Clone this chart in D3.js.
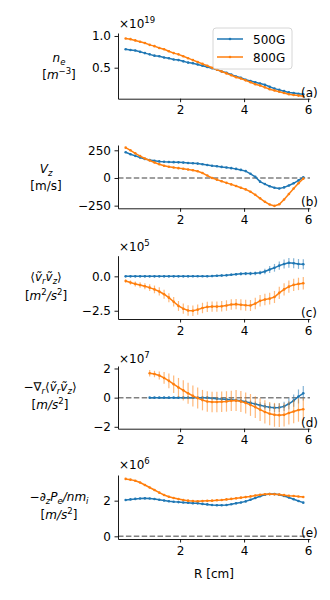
<!DOCTYPE html>
<html>
<head>
<meta charset="utf-8">
<script src="https://d3js.org/d3.v7.min.js"></script>
<style>
  body { margin: 0; background: #fff; }
  svg text { font-family: "DejaVu Sans", sans-serif; fill: #000; }
</style>
</head>
<body>
<svg id="chart" width="330" height="600"></svg>
<script>
// radial positions (cm)
var R = [0.3, 0.45, 0.6, 0.75, 0.9, 1.05, 1.2, 1.35, 1.5, 1.65, 1.8, 1.95, 2.1, 2.25, 2.4, 2.55, 2.7, 2.85, 3.0,
         3.15, 3.3, 3.45, 3.6, 3.75, 3.9, 4.05, 4.2, 4.35, 4.5, 4.65, 4.8, 4.95, 5.1, 5.25, 5.4, 5.55, 5.7, 5.85];
var seriesNames = ["500G", "800G"];
var xTicks = [2, 4, 6];

// (a) n_e  x1e19
var ne500 = [.79, .78, .77, .75, .73, .71, .69, .68, .66, .65, .63, .62, .60, .58, .57, .55, .53, .51, .49,
             .47, .44, .42, .39, .36, .34, .31, .29, .27, .25, .23, .20, .17, .15, .13, .11, .10, .09, .08];
var ne800 = [.96, .95, .93, .91, .89, .86, .84, .81, .79, .76, .73, .71, .68, .65, .62, .59, .56, .53, .50,
             .47, .44, .41, .38, .35, .33, .30, .27, .24, .22, .19, .16, .14, .12, .10, .08, .07, .06, .05];

// (b) V_z  m/s
var vz500 = [232, 215, 200, 185, 172, 162, 155, 150, 147, 145, 143, 141, 139, 136, 133, 130, 124, 117, 111,
             106, 100, 95, 89, 82, 73, 62, 38, 10, -33, -55, -75, -88, -95, -85, -68, -48, -22, 6];
var vz800 = [274, 250, 223, 198, 176, 158, 140, 124, 111, 102, 95, 89, 83, 77, 70, 61, 45, 22, 0,
             -15, -30, -44, -58, -72, -88, -103, -124, -152, -184, -215, -240, -252, -238, -195, -145, -95, -48, -6];

// (c) <vr vz>  x1e5
var rs500 = [0, 0, 0, 0, 0, 0, 0, 0, 0, 0, 0, 0, 0, 0, 0.01, 0.01, 0.01, 0.01, 0.02,
             0.04, 0.06, 0.08, 0.12, 0.15, 0.18, 0.2, 0.2, 0.22, 0.26, 0.35, 0.5, 0.62, 0.78, 0.9, 0.98, 0.95, 0.9, 0.88];
var rs500err = [.03, .03, .03, .03, .03, .03, .03, .03, .03, .04, .04, .04, .05, .05, .05, .06, .06, .07, .08,
                .08, .09, .1, .1, .1, .12, .12, .13, .14, .15, .2, .25, .28, .3, .33, .35, .36, .36, .36];
var rs800 = [-0.34, -0.45, -0.55, -0.63, -0.72, -0.82, -0.95, -1.1, -1.3, -1.55, -1.85, -2.15, -2.35, -2.48, -2.5, -2.42, -2.3, -2.22, -2.2,
             -2.2, -2.18, -2.12, -2.05, -2.02, -2.06, -2.1, -2.12, -1.98, -1.78, -1.68, -1.62, -1.5, -1.2, -0.95, -0.75, -0.62, -0.55, -0.5];
var rs800err = [.12, .15, .18, .2, .22, .25, .28, .3, .32, .33, .35, .36, .37, .38, .38, .38, .38, .38, .38,
                .38, .38, .38, .38, .38, .4, .4, .4, .42, .42, .42, .42, .44, .44, .44, .44, .45, .45, .45];

// (d) -grad_r <vr vz>  x1e7  (starts at R = 1.05)
var fr500 = [null, null, null, null, null, 0, 0, 0, 0, 0, 0, 0, 0, 0, 0, 0, 0, 0, -0.04,
             -0.08, -0.1, -0.12, -0.15, -0.18, -0.22, -0.28, -0.36, -0.44, -0.52, -0.6, -0.66, -0.7, -0.68, -0.6, -0.42, -0.2, 0.08, 0.3];
var fr500err = [null, null, null, null, null, .04, .04, .04, .04, .04, .04, .04, .05, .05, .05, .05, .06, .06, .07,
                .08, .1, .1, .12, .12, .14, .15, .16, .18, .2, .22, .25, .28, .3, .32, .38, .42, .48, .5];
var fr800 = [null, null, null, null, null, 1.67, 1.62, 1.52, 1.35, 1.15, 0.92, 0.7, 0.5, 0.3, 0.12, -0.03, -0.17, -0.26, -0.3,
             -0.3, -0.28, -0.26, -0.22, -0.2, -0.26, -0.36, -0.5, -0.65, -0.82, -0.98, -1.1, -1.18, -1.2, -1.18, -1.05, -0.95, -0.85, -0.8];
var fr800err = [null, null, null, null, null, .22, .22, .28, .4, .5, .6, .65, .7, .72, .72, .72, .7, .7, .7,
                .7, .7, .7, .7, .72, .72, .72, .75, .75, .78, .8, .8, .82, .82, .8, .8, .8, .8, .8];

// (e) -d_z P_e / n m_i  x1e6
var pe500 = [2.04, 2.07, 2.1, 2.12, 2.13, 2.12, 2.09, 2.05, 2.01, 1.97, 1.94, 1.92, 1.9, 1.88, 1.86, 1.85, 1.82, 1.79, 1.76,
             1.74, 1.74, 1.76, 1.8, 1.85, 1.9, 1.96, 2.05, 2.15, 2.25, 2.33, 2.37, 2.37, 2.33, 2.26, 2.18, 2.08, 1.98, 1.89];
var pe800 = [3.22, 3.18, 3.12, 3.02, 2.88, 2.74, 2.6, 2.45, 2.32, 2.22, 2.15, 2.09, 2.04, 2.0, 1.98, 1.97, 1.98, 1.99, 2.0,
             2.02, 2.04, 2.07, 2.1, 2.13, 2.17, 2.2, 2.24, 2.29, 2.33, 2.36, 2.37, 2.36, 2.34, 2.31, 2.28, 2.26, 2.23, 2.21];

var colors = ["#1f77b4", "#ff7f0e"];
var svg = d3.select("#chart");
var fs = 12;

var x = d3.scaleLinear().domain([0.06, 6.06]).range([118, 310]);

// label pieces: r = roman, i = italic, b = subscript, p = superscript
var panels = [
  {id: "a", top: 33, bottom: 98.7, dom: [0.011, 1.047], ticks: [0.5, 1.0], fmt: d3.format(".1f"),
   series: [ne500, ne800], err: null, zero: false, exp: "19", expY: 28, labY: [62, 79], labX: 59,
   lab: [[["n", "i"], ["e", "b"]], [["[", "r"], ["m", "i"], ["−3", "p"], ["]", "r"]]]},
  {id: "b", top: 145, bottom: 208.3, dom: [-274, 298], ticks: [-250, 0, 250], fmt: d3.format("d"),
   series: [vz500, vz800], err: null, zero: true, exp: null, labY: [173, 190], labX: 46,
   lab: [[["V", "i"], ["z", "b"]], [["[m/s]", "r"]]]},
  {id: "c", top: 255.7, bottom: 319, dom: [-3.10, 1.50], ticks: [-2.5, 0], fmt: d3.format(".1f"),
   series: [rs500, rs800], err: [rs500err, rs800err], zero: false, exp: "5", expY: 251, labY: [281, 300], labX: 46,
   lab: [[["⟨", "r"], ["ṽ", "i"], ["r", "b"], ["ṽ", "i"], ["z", "b"], ["⟩", "r"]],
         [["[", "r"], ["m", "i"], ["2", "p"], ["/s", "i"], ["2", "p"], ["]", "r"]]]},
  {id: "d", top: 366, bottom: 428.7, dom: [-2.13, 2.17], ticks: [-2, 0, 2], fmt: d3.format("d"),
   series: [fr500, fr800], err: [fr500err, fr800err], zero: true, exp: "7", expY: 363, labY: [391, 409], labX: 50,
   lab: [[["−∇", "r"], ["r", "b"], ["⟨", "r"], ["ṽ", "i"], ["r", "b"], ["ṽ", "i"], ["z", "b"], ["⟩", "r"]],
         [["[", "r"], ["m/s", "i"], ["2", "p"], ["]", "r"]]]},
  {id: "e", top: 475, bottom: 539, dom: [-0.15, 3.44], ticks: [0, 2], fmt: d3.format("d"),
   series: [pe500, pe800], err: null, zero: true, exp: "6", expY: 469, labY: [501, 519], labX: 59,
   lab: [[["−∂", "r"], ["z", "b"], ["P", "i"], ["e", "b"], ["/nm", "i"], ["i", "b"]],
         [["[", "r"], ["m/s", "i"], ["2", "p"], ["]", "r"]]]}
];

function richText(g, px, py, pieces) {
  var t = g.append("text").attr("x", px).attr("y", py).attr("text-anchor", "middle").style("font-size", fs + "px");
  var cur = 0;
  pieces.forEach(function(pc) {
    var k = pc[1];
    var off = k === "b" ? 3 : (k === "p" ? -5 : 0);
    var ts = t.append("tspan").attr("dy", off - cur).text(pc[0]);
    if (k === "b" || k === "p") ts.attr("font-size", 8.5);
    if (k === "i" || k === "b") ts.attr("font-style", "italic");
    cur = off;
  });
}

panels.forEach(function(p) {
  var y = d3.scaleLinear().domain(p.dom).range([p.bottom, p.top]);
  var g = svg.append("g");

  if (p.zero) {
    g.append("line")
      .attr("x1", x.range()[0]).attr("x2", x.range()[1])
      .attr("y1", y(0)).attr("y2", y(0))
      .attr("stroke", "#808080").attr("stroke-width", 1.5)
      .attr("stroke-dasharray", "5.5,2.4");
  }

  p.series.forEach(function(vals, si) {
    var pts = R.map(function(r, i) {
      return {r: r, v: vals[i], e: p.err ? p.err[si][i] : null};
    }).filter(function(d) { return d.v !== null; });

    if (p.err) {
      g.selectAll(".err" + si).data(pts).enter().append("line")
        .attr("x1", function(d) { return x(d.r); })
        .attr("x2", function(d) { return x(d.r); })
        .attr("y1", function(d) { return y(d.v - d.e); })
        .attr("y2", function(d) { return y(d.v + d.e); })
        .attr("stroke", colors[si]).attr("stroke-width", 1.2).attr("opacity", 0.55);
    }

    g.append("path").datum(pts)
      .attr("fill", "none").attr("stroke", colors[si]).attr("stroke-width", 1.5)
      .attr("d", d3.line().x(function(d) { return x(d.r); }).y(function(d) { return y(d.v); }));

    g.selectAll(".dot" + si).data(pts).enter().append("circle")
      .attr("cx", function(d) { return x(d.r); })
      .attr("cy", function(d) { return y(d.v); })
      .attr("r", 1.3).attr("fill", colors[si]);
  });

  var ya = g.append("g").attr("transform", "translate(" + x.range()[0] + ",0)")
    .call(d3.axisLeft(y).tickValues(p.ticks).tickSize(3.5).tickSizeOuter(0).tickPadding(3.5)
      .tickFormat(function(d) { return p.fmt(d).replace("-", "−"); }));
  var xa = g.append("g").attr("transform", "translate(0," + p.bottom + ")")
    .call(d3.axisBottom(x).tickValues(xTicks).tickSize(3.5).tickSizeOuter(0).tickPadding(3.5)
      .tickFormat(d3.format("d")));
  [ya, xa].forEach(function(a) {
    a.selectAll("text").style("font-size", fs + "px").style("font-family", "DejaVu Sans");
    a.selectAll("path, line").attr("stroke", "#000").attr("stroke-width", 0.9);
  });

  if (p.exp) {
    var t = g.append("text").attr("x", 119).attr("y", p.expY).style("font-size", fs + "px").text("×10");
    t.append("tspan").attr("font-size", 8.5).attr("dy", -5).text(p.exp);
  }

  g.append("text").attr("x", 301).attr("y", p.bottom - 2).style("font-size", fs + "px").text("(" + p.id + ")");

  richText(g, p.labX, p.labY[0], p.lab[0]);
  richText(g, p.labX, p.labY[1], p.lab[1]);
});

// legend on panel (a)
var lg = svg.append("g").attr("transform", "translate(213,28)");
lg.append("rect").attr("width", 79).attr("height", 41).attr("rx", 3)
  .attr("fill", "#fff").attr("fill-opacity", 0.8).attr("stroke", "#ccc").attr("stroke-width", 0.8);
seriesNames.forEach(function(n, i) {
  var yy = 11 + i * 18;
  lg.append("line").attr("x1", 4).attr("x2", 30).attr("y1", yy).attr("y2", yy)
    .attr("stroke", colors[i]).attr("stroke-width", 1.5);
  lg.append("circle").attr("cx", 17).attr("cy", yy).attr("r", 1.3).attr("fill", colors[i]);
  lg.append("text").attr("x", 40).attr("y", yy + 4.5).style("font-size", fs + "px").text(n);
});

svg.append("text").attr("x", 214).attr("y", 578).attr("text-anchor", "middle")
  .style("font-size", fs + "px").text("R [cm]");
</script>
</body>
</html>
